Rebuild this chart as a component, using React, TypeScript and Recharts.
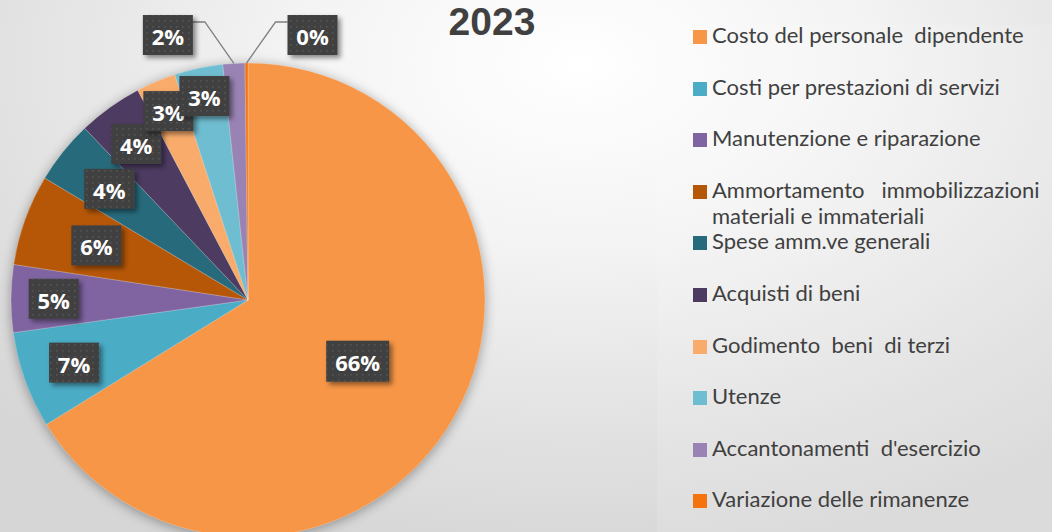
import React from "react";
import { PieChart, Pie, Cell, Legend } from "recharts";

const categories = [
  "Costo del personale  dipendente",
  "Costi per prestazioni di servizi",
  "Manutenzione e riparazione",
  "Ammortamento   immobilizzazioni materiali e immateriali",
  "Spese amm.ve generali",
  "Acquisti di beni",
  "Godimento  beni  di terzi",
  "Utenze",
  "Accantonamenti  d'esercizio",
  "Variazione delle rimanenze",
];
const values = [66.2, 6.6, 4.6, 6.2, 4.3, 4.4, 2.7, 3.3, 1.5, 0.2];
const colors = [
  "#F79646",
  "#4BACC6",
  "#8064A2",
  "#B65708",
  "#276A7C",
  "#4D3B62",
  "#F9AB6B",
  "#6FBDD1",
  "#9983B5",
  "#F5730F",
];
const title = "2023";

const data = categories.map((name, i) => ({ name, value: values[i] }));

// label placement styling (fraction of radius), null = outside with leader line
const labelRadius = [0.53, 0.78, 0.82, 0.68, 0.75, 0.81, 0.865, 0.88, null, null];

const RAD = Math.PI / 180;
const FONT = "'Open Sans', sans-serif";

const LabelBox = ({ x, y, w, h, text }: any) => (
  <g>
    <rect x={x - w / 2} y={y - h / 2} width={w} height={h} fill="#404040" filter="url(#boxShadow)" />
    <rect x={x - w / 2} y={y - h / 2} width={w} height={h} fill="url(#dots)" />
    <text
      x={x}
      y={y + 1}
      textAnchor="middle"
      dominantBaseline="central"
      fill="#ffffff"
      fontFamily={FONT}
      fontWeight={700}
      fontSize={22}
    >
      {text}
    </text>
  </g>
);

const renderLabel = (props: any) => {
  const { cx, cy, midAngle, outerRadius, percent, index } = props;
  const text = `${Math.round(percent * 100)}%`;
  const defs =
    index === 0 ? (
      <defs>
        <pattern id="dots" width="6" height="6" patternUnits="userSpaceOnUse">
          <rect x="2" y="2" width="1.6" height="1.6" fill="#555555" />
        </pattern>
        <filter id="boxShadow" x="-30%" y="-30%" width="170%" height="170%">
          <feDropShadow dx="3" dy="3" stdDeviation="2.5" floodColor="#000" floodOpacity="0.45" />
        </filter>
      </defs>
    ) : null;
  const f = labelRadius[index];
  const w = text.length > 2 ? 63 : 50;
  const h = 40;
  if (f != null) {
    const r = outerRadius * f;
    const x = cx + r * Math.cos(-midAngle * RAD);
    const y = cy + r * Math.sin(-midAngle * RAD);
    return (
      <g key={`l${index}`}>
        {defs}
        <LabelBox x={x} y={y} w={index === 0 ? 63 : 50} h={index === 0 ? 41 : h} text={text} />
      </g>
    );
  }
  const dir = index === data.length - 1 ? 1 : -1;
  const sx = cx + outerRadius * Math.cos(-midAngle * RAD);
  const sy = cy + outerRadius * Math.sin(-midAngle * RAD);
  const ex = sx + dir * 29;
  const ey = cy - outerRadius - 41;
  const lx = ex + dir * 12;
  const bx = lx + dir * 25;
  return (
    <g key={`l${index}`}>
      {defs}
      <polyline points={`${sx},${sy} ${ex},${ey} ${lx},${ey}`} fill="none" stroke="#7f7f7f" strokeWidth={1.3} />
      <LabelBox x={bx} y={ey + 13} w={w} h={h} text={text} />
    </g>
  );
};

const renderLegend = (props: any) => {
  const payload = [...(props.payload || [])].sort(
    (a: any, b: any) => categories.indexOf(a.value) - categories.indexOf(b.value)
  );
  return (
    <div style={{ fontFamily: "Lato, 'Open Sans', sans-serif", fontSize: 22, color: "#404040" }}>
      {payload.map((p: any, i: number) => (
        <div key={i} style={{ height: 51.6, position: "relative" }}>
          <div
            style={{
              position: "absolute",
              left: 0,
              top: 3,
              width: 14,
              height: 14,
              background: p.color,
            }}
          />
          <div
            style={{
              position: "absolute",
              left: 19,
              top: -5,
              width: 350,
              lineHeight: "26px",
              whiteSpace: "pre-wrap",
            }}
          >
            {p.value}
          </div>
        </div>
      ))}
    </div>
  );
};

export default function App() {
  return (
    <div
      style={{
        position: "absolute",
        left: 0,
        top: 0,
        width: 1052,
        height: 532,
        overflow: "hidden",
        background:
          "radial-gradient(ellipse 75% 95% at 55% 12%, #ffffff 0%, #f4f4f4 35%, #e3e3e3 70%, #d6d6d6 100%)",
      }}
    >
      <style>{`.pie-shadow .recharts-pie { filter: drop-shadow(0px 2px 6px rgba(0,0,0,0.35)); }`}</style>
      <div
        style={{
          position: "absolute",
          left: 657,
          top: 25,
          width: 395,
          height: 507,
          background: "rgba(255,255,255,0.12)",
        }}
      />
      <div
        style={{
          position: "absolute",
          left: 392,
          top: 0,
          width: 200,
          textAlign: "center",
          fontFamily: "'Liberation Sans', Arial, sans-serif",
          fontWeight: 700,
          fontSize: 39,
          lineHeight: "44px",
          color: "#404040",
        }}
      >
        {title}
      </div>
      <div className="pie-shadow" style={{ position: "absolute", left: 0, top: 0 }}>
        <PieChart width={1052} height={532} margin={{ top: 0, right: 0, bottom: 0, left: 0 }}>
          <Pie
            data={data}
            dataKey="value"
            nameKey="name"
            cx={248}
            cy={300}
            outerRadius={237}
            startAngle={90}
            endAngle={-270}
            stroke="rgba(255,255,255,0.35)"
            strokeWidth={0.6}
            label={renderLabel}
            labelLine={false}
            isAnimationActive={false}
          >
            {data.map((d, i) => (
              <Cell key={d.name} fill={colors[i]} />
            ))}
          </Pie>
          <Legend
            layout="vertical"
            align="right"
            verticalAlign="top"
            content={renderLegend}
            wrapperStyle={{ left: 693, top: 27, width: 359 }}
          />
        </PieChart>
      </div>
    </div>
  );
}
